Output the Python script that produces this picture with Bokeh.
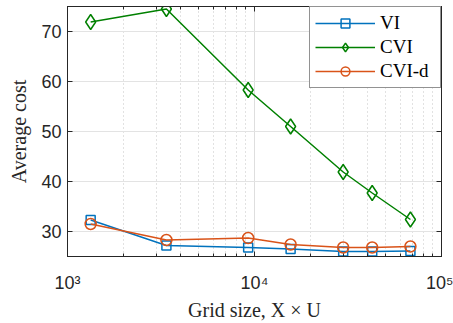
import math
from bokeh.plotting import figure
from bokeh.models import LogAxis, LinearAxis, Range1d, FixedTicker, LogTicker
from bokeh.embed import file_html
from bokeh.resources import INLINE

# ---- data ----
grid_size = [1330, 3380, 9250, 15600, 29800, 42600, 68200]
vi = [32.3, 27.2, 26.8, 26.5, 26.0, 26.0, 26.1]
cvi = [71.9, 74.5, 58.3, 51.0, 41.9, 37.7, 32.4]
cvi_d = [31.5, 28.3, 28.7, 27.4, 26.8, 26.8, 27.0]
series_names = ["VI", "CVI", "CVI-d"]
y_ticks = [30, 40, 50, 60, 70]
x_ticks = [1000, 10000, 100000]
x_tick_labels = ["10³", "10⁴", "10⁵"]
x_label = "Grid size, X × U"
y_label = "Average cost"

AX = "#262626"
p = figure(width=453, height=323, x_axis_type="log",
           x_range=Range1d(1000, 100000), y_range=Range1d(25, 75),
           output_backend="svg", toolbar_location=None,
           min_border_left=67, min_border_right=12, min_border_top=6,
           min_border_bottom=65)
p.outline_line_color = AX
p.background_fill_color = "white"

# grids
p.xgrid.grid_line_color = "#dedede"
p.xgrid.minor_grid_line_color = "#c4c4c4"
p.xgrid.minor_grid_line_dash = "1 3"
p.ygrid.grid_line_color = "#e3e3e3"
p.ygrid.ticker = FixedTicker(ticks=y_ticks)

# axes
p.yaxis.ticker = FixedTicker(ticks=y_ticks)
p.xaxis.ticker = LogTicker(num_minor_ticks=10)
p.xaxis.major_label_overrides = {t: l for t, l in zip(x_ticks, x_tick_labels)}
for ax in [p.xaxis[0], p.yaxis[0]]:
    ax.axis_line_color = AX
    ax.major_tick_line_color = AX
    ax.minor_tick_line_color = AX
    ax.major_tick_in = 5
    ax.major_tick_out = 0
    ax.minor_tick_in = 3
    ax.minor_tick_out = 0
    ax.major_label_text_font = "Liberation Sans"
    ax.major_label_text_font_size = "18px"
    ax.major_label_text_color = AX
    ax.axis_label_text_font = "Liberation Serif"
    ax.axis_label_text_font_style = "normal"
    ax.axis_label_text_font_size = "20px"
    ax.axis_label_text_color = AX
p.yaxis.minor_tick_line_color = None
p.yaxis.major_label_standoff = 6
p.yaxis.axis_label = y_label
p.yaxis.axis_label_standoff = 8
p.xaxis.major_label_standoff = 16
p.xaxis.axis_label = x_label
p.xaxis.axis_label_standoff = 3

right = LinearAxis(ticker=FixedTicker(ticks=y_ticks))
top = LogAxis(ticker=LogTicker(num_minor_ticks=10))
for ax in [right, top]:
    ax.major_label_text_font_size = "1px"
    ax.major_label_text_color = None
    ax.major_label_standoff = 0
    ax.major_tick_in = 5
    ax.major_tick_out = 0
    ax.minor_tick_in = 3
    ax.minor_tick_out = 0
    ax.axis_line_color = AX
    ax.major_tick_line_color = AX
    ax.minor_tick_line_color = AX
right.minor_tick_line_color = None
p.add_layout(right, "right")
p.add_layout(top, "above")

colors = ["#0072BD", "#008000", "#D95319"]
values = [vi, cvi, cvi_d]
markers = [("square", 9), ("diamond", 15), ("circle", 11)]
for name, vals, col, (mk, sz) in zip(series_names, values, colors, markers):
    p.line(grid_size, vals, line_color=col, line_width=1.5, legend_label=name)
    p.scatter(grid_size, vals, marker=mk, size=sz, fill_alpha=0,
              line_color=col, line_width=1.5, legend_label=name)

lg = p.legend[0]
lg.location = "top_right"
lg.margin = 0
lg.padding = 5
lg.spacing = 2
lg.border_line_color = AX
lg.border_line_width = 1
lg.glyph_width = 60
lg.glyph_height = 22
lg.label_height = 22
lg.label_width = 55
lg.label_standoff = 5
lg.label_text_font = "Liberation Serif"
lg.label_text_font_size = "19px"
lg.label_text_color = "black"
lg.background_fill_alpha = 1

open("out.html", "w").write(file_html(p, INLINE))
